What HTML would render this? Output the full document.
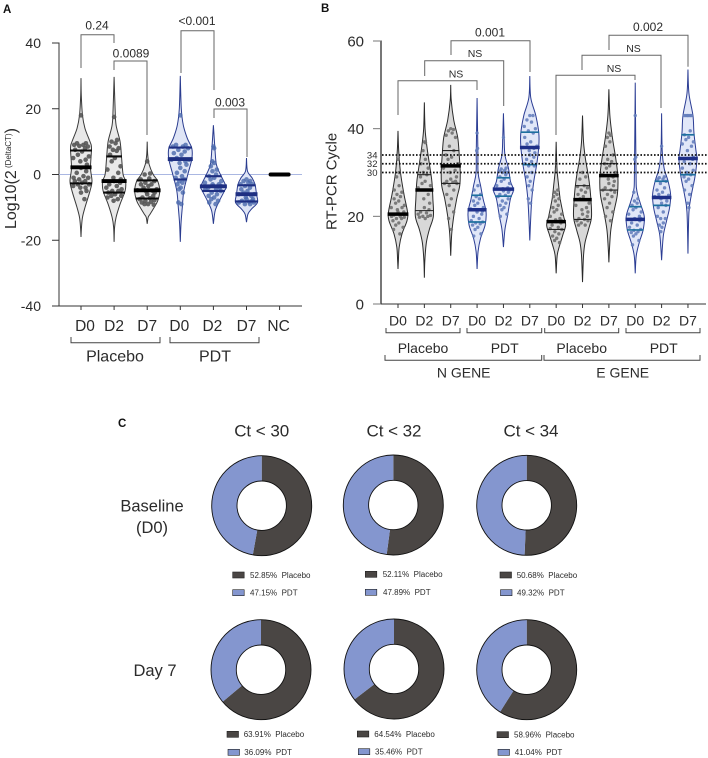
<!DOCTYPE html>
<html lang="en">
<head>
<meta charset="utf-8">
<title>Violin and donut charts</title>
<style>
html,body{margin:0;padding:0;background:#fff;width:708px;height:758px;overflow:hidden}
svg{display:block}
text{font-family:"Liberation Sans",Arial,sans-serif;fill:#2b2b2b}
</style>
</head>
<body>
<svg id="figure" xmlns="http://www.w3.org/2000/svg" width="708" height="758" viewBox="0 0 708 758">
  <rect width="708" height="758" fill="#fff"/>
  <text x="3" y="13" font-size="11.5" font-weight="bold" style="fill:#111">A</text>
  <text x="321" y="12" font-size="11.5" font-weight="bold" style="fill:#111">B</text>
  <text x="118" y="427" font-size="11.5" font-weight="bold" style="fill:#111">C</text>

  <g id="panelA"></g>
  <g id="panelB"></g>
  <g id="panelC"></g>

  <text transform="translate(16,229) rotate(-90)" font-size="16">Log10(2<tspan font-size="8" dy="-5"> (DeltaCT)</tspan><tspan dy="5">)</tspan></text>
  <text transform="translate(336.5,230) rotate(-90)" font-size="15">RT-PCR Cycle</text>

  <g fill="none" stroke="#666" stroke-width="1">
    <path d="M81 68V34.7H114V43"/>
    <path d="M114 70V61H147V135"/>
    <path d="M181 73V30.7H214V90"/>
    <path d="M214 118V109H247V157"/>
  </g>
  <g font-size="12" text-anchor="middle">
    <text x="97" y="29.5">0.24</text>
    <text x="131" y="57.5">0.0089</text>
    <text x="197" y="25">&lt;0.001</text>
    <text x="230" y="106.5">0.003</text>
  </g>

  <g fill="none" stroke="#666" stroke-width="1">
    <path d="M398 115V80.7H477V90"/>
    <path d="M424.7 76V60.7H503.7V106"/>
    <path d="M451 55V40.7H530V72"/>
    <path d="M556 135V75.3H635V80"/>
    <path d="M582 70V55.3H661V108"/>
    <path d="M609 50V35.3H688V66.7"/>
  </g>
  <g font-size="10.5" text-anchor="middle">
    <text x="456" y="77.5">NS</text>
    <text x="475" y="57">NS</text>
    <text x="614" y="72">NS</text>
    <text x="633.5" y="52">NS</text>
  </g>
  <g font-size="12" text-anchor="middle">
    <text x="490" y="36.5">0.001</text>
    <text x="648" y="31">0.002</text>
  </g>

  <g fill="none" stroke="#444" stroke-width="1">
    <path d="M71 337V342.7H160V337"/>
    <path d="M170 337V342.7H259V337"/>
  </g>
  <g font-size="16" text-anchor="middle">
    <text x="115" y="361.5">Placebo</text>
    <text x="215" y="361.5">PDT</text>
  </g>

  <g fill="none" stroke="#444" stroke-width="1">
    <path d="M386 328V332.7H460V328"/>
    <path d="M467 328V332.7H541.7V328"/>
    <path d="M544.7 328V332.7H618.7V328"/>
    <path d="M626 328V332.7H700V328"/>
    <path d="M385 355V360.3H541.7V355"/>
    <path d="M544 355V360.3H700V355"/>
  </g>
  <g font-size="14" text-anchor="middle">
    <text x="423" y="353">Placebo</text>
    <text x="504.7" y="353">PDT</text>
    <text x="581.7" y="353">Placebo</text>
    <text x="663.7" y="353">PDT</text>
    <text x="463.7" y="377.5">N GENE</text>
    <text x="622.7" y="377.5">E GENE</text>
  </g>

  <g font-size="17" text-anchor="middle">
    <text x="261.7" y="436.5" textLength="55">Ct &lt; 30</text>
    <text x="394" y="436.5" textLength="55">Ct &lt; 32</text>
    <text x="531" y="436.5" textLength="55">Ct &lt; 34</text>
    <text x="152" y="511.5" font-size="16.5">Baseline</text>
    <text x="152" y="533" font-size="16.5">(D0)</text>
    <text x="155" y="676" font-size="16.5">Day 7</text>
  </g>
</svg>

<script>
// ---------- Panel A data ----------
const aCategories = ['D0','D2','D7','D0','D2','D7','NC'];
const aTicks = [40,20,0,-20,-40];
const aTickLabels = ['40','20','0','-20','-40'];
const aNames = ['placebo-d0','placebo-d2','placebo-d7','pdt-d0','pdt-d2','pdt-d7'];
const aQ3 = [7.3,5.5,-1.8,8.2,-0.5,-3.3];
const aMedian = [2.2,-2,-4.8,4.7,-3.6,-6];
const aQ1 = [-2.7,-5.5,-7.3,-1.5,-5,-8.2];
const aNegativeControl = [0];
const aDensityLevels = [
  [29.3,24,18,14,10,8,2,-2,-5,-10,-13,-16,-19],
  [29.7,20,15,10,5,0,-2,-5,-9,-13,-16,-20.5],
  [10,6,3,0,-2,-5,-8,-10,-12,-13,-15],
  [30,20,15,11,8,4.7,0,-5,-10,-15,-20.5],
  [15,8,3,0,-3.6,-5,-8,-11,-15],
  [5,1,-1,-3,-6,-8.5,-10.5,-12,-14.5]
];
const aDensities = [
  [0,.3,1.5,4,9,10.5,9.5,11,9,4,1.5,.5,0],
  [0,1,2,6,7.5,9,11.5,11,6,2,.5,0],
  [0,.5,2,6,10.5,12.5,10.5,7,3,1,0],
  [0,1,3,7,11.5,11.5,7.5,3.5,2,.7,0],
  [0,1.5,3,7,12.5,11,6,1.8,0],
  [0,1,5.5,8.5,10,11,5,1.5,0]
];
const aPoints = [
  [18,9.5,9.5,9,9,8.5,8.7,8,7.5,7,6,5.5,5,4.5,4,3,2,1,0.5,-0.5,-1,-1,-1.5,-2,-2,-2.5,-3,-3,-3.5,-4,-4,-5,-5.5,-7.5],
  [17.5,10.5,10,9.5,8.5,8,7.5,7.2,6,5,4,2.5,1.5,0.5,-1,-1.5,-2,-2.5,-3,-3.5,-4,-4.5,-5,-5,-5.5,-6,-6.5,-6.5,-7,-7.5,-8],
  [4,0.3,0,-1.2,-1.5,-2,-2.5,-3,-3,-3.5,-4,-4.5,-4.8,-5,-5.2,-5.5,-6,-6.5,-7,-7.2,-7.5,-7.8,-8,-8.3,-8.5,-9,-9,-9.2],
  [18,9,9,8.5,8.5,8,7.5,7,6.5,6,5,4.5,4.5,4,3.5,3,2,1,0.5,-0.5,-1,-1.5,-2,-2.5,-3,-4,-4.5,-5.5,-8.5,-9],
  [8.5,8,4,3.5,2.5,1.5,1,0,-0.5,-1,-1.5,-2,-2.5,-3,-3,-3.5,-3.5,-4,-4,-4.5,-4.5,-5,-5.5,-6,-6.5,-7,-7.5,-8,-8.5,-9],
  [-1.5,-2,-2,-2.5,-3,-3,-3.5,-4,-4.5,-5,-5.5,-6,-6,-6.5,-7,-7.5,-7.5,-8,-8,-8.3,-8.5,-8.5,-9,-9]
];

// ---------- Panel B data ----------
const bCategories = ['D0','D2','D7','D0','D2','D7','D0','D2','D7','D0','D2','D7'];
const bTicks = [60,40,20,0];
const bTickLabels = ['60','40','20','0'];
const bThresholds = [34,32,30];
const bThresholdLabels = ['34','32','30'];
const bNames = ['n-placebo-d0','n-placebo-d2','n-placebo-d7','n-pdt-d0','n-pdt-d2','n-pdt-d7','e-placebo-d0','e-placebo-d2','e-placebo-d7','e-pdt-d0','e-pdt-d2','e-pdt-d7'];
const bQ3 = [null,29.5,35,24.8,28.8,39.2,null,27,32,22.2,28,38.6];
const bMedian = [20.5,26,31.5,21.5,26.2,35.7,18.8,23.8,29.3,19.3,24.3,33.2];
const bQ1 = [null,21.3,27.5,18.7,24.6,31.8,17,19.3,26,16.9,22.5,29.5];
const bDensityLevels = [
  [39.5,35,30,25,21,19,16,13,10,8],
  [46,40,36,32,28,24,20,17,14,10,6],
  [50,46.5,42,38,34,30,27,24,20,16,11],
  [47,35,30,27,24,21,18,15,12,8],
  [43.5,38,34,31,28,26,24,20,17,13],
  [52,47,43,39,36,32,28,24,19,14.5],
  [37,31,27,24,20,18,16,13,11,7],
  [43,37,33,29,25,20,17,14,11,5],
  [49,43,38,33,29,25,21,17,13,9.5],
  [50.5,30,26,23,20,17,14,11,7],
  [43.5,35,31,28,25,22,19,16,13,10],
  [53.5,48,43,39,35,33,29,25,21,11.5]
];
const bDensities = [
  [0,.7,2.5,6,9.5,9,4,1.2,.4,0],
  [0,.7,2.5,5,7.5,8.5,9,5,2,.5,0],
  [0,.5,3,7,8.5,9.5,9,6,3,1,0],
  [0,.8,1,3.5,6,9,8,3.5,1,0],
  [0,.7,1.5,5,7,10,7,4,1.5,0],
  [0,1,6,9,9,7,4,2,.8,0],
  [0,.8,2.5,4,7.5,9.5,7,3,1,0],
  [0,1,3,6,8,9,6,2.5,1,0],
  [0,1,3.5,7,9,8.5,5,2,.7,0],
  [0,.8,1.5,5,9,8,4,1,0],
  [0,.6,2.5,6.5,9,8,5,2,.8,0],
  [0,1,5,6,8,9,7,3.5,1,0]
];
const bPoints = [
  [33,30,29,27,26,25.5,25,24.5,24,23.5,23,22.5,22,22,21.5,21,21,20.5,20.3,20,20,19.8,19.5,19.5,19,18.5,18,17.5,17,16],
  [37,36.8,35,33,32,31,30,29.5,29,28,27.5,27,26.5,25,24,23,22,21.5,21,20.8,20.5,20.2,20,20,19.8,19.5],
  [40,39.8,39.5,39,38.5,38,36,35,34,33.5,33,32,31,30.5,30,29,28.5,28,28,27.8,27.5,27.5,27,26,25,24,22.5,21,19.5,17],
  [39,35.5,35,27,26,25,24.5,24,23.5,23,22.5,22,21.7,21.5,21.5,21.2,21,20.5,20,19.5,19,18.7,18.5,18.3,18,17.5,17,16,15.5],
  [38,31,30.8,30.5,30.3,30,30,29.5,29,28.5,28,27.5,27,26.5,26.3,26,25.8,25.5,25,24.8,24.5,24,23.5,23,22.5,22,21.5,20.5,20],
  [43,43,42,41.5,40.5,40,39.5,39,38,37,36.5,36,35.7,35.5,35,34.5,34,33.5,33,32.5,32,31.5,31.5,30,29,28,27,26,24,23],
  [32,26,25.5,25,24.5,24,23.5,22.5,22,21.5,21,20.5,20,19.5,19.2,19,18.8,18.5,18,17.5,17.2,17,16.5,16,15.5,15,14.5,14],
  [30,29,28.5,27,26.8,26.5,26,25.5,25,24.5,24,23,22.5,22,21.5,21,20.5,20,19.5,19.3,19,19,18.5,18,18],
  [39,38.5,38,37,36,34,33,32.5,32,31.5,31,30,29.5,29,28.5,28,27.5,27,26.5,26,26,25.5,25,24.5,24,23,22,21,20,19],
  [43,33.5,33,30,25.5,24,23.5,23,22.5,22,21.5,21,20.5,20,19.5,19.5,19.3,19,18.5,18,17.5,17,16.8,16.5,16.3,16,15.5,14.5,13.5],
  [36,29,28.8,28.5,28.5,28,27.5,26.5,26,25.5,25,24.8,24.5,24.3,24,23.5,23,22.5,22,21,20,19.5,19.5,18.5,18,17.5,16.5],
  [43,43,43,43,43,43,43,39.5,38.6,38,37.5,37,36.5,36,35,33.5,33.2,33,32.5,32,31,30.5,30,29.5,29,28.5,28,27,26,25,23,22]
];

// ---------- Panel C data ----------
const cPanelNames = ['baseline-ct-30','baseline-ct-32','baseline-ct-34','day7-ct-30','day7-ct-32','day7-ct-34'];
const cPlaceboShare = [52.85,52.11,50.68,63.91,64.54,58.96];
const cPdtShare = [47.15,47.89,49.32,36.09,35.46,41.04];

// ---------- Axis functions ----------
const NS = 'http://www.w3.org/2000/svg';
const xA = i => 81 + i * 33.1;
const yA = v => 174.5 - v * 131.5 / 40;
const xB = i => 398 + i * 26.36;
const yB = v => 304 - v * 263 / 60;
const jitter = [0,.62,-.5,.28,-.82,.8,-.2,.45,-.66,.12,-.36,.92,-.92,.55,-.08,.72];

function make(tag, parent) {
  const el = document.createElementNS(NS, tag);
  parent.appendChild(el);
  return el;
}
function densityAt(levels, dens, v) {
  for (let i = 0; i < levels.length - 1; i++) {
    if (v <= levels[i] && v >= levels[i + 1]) {
      const t = (levels[i] - v) / (levels[i] - levels[i + 1]);
      return dens[i] + (dens[i + 1] - dens[i]) * t;
    }
  }
  return 0;
}
function smoothSegments(p) {
  let d = '';
  for (let i = 0; i < p.length - 1; i++) {
    const p0 = p[Math.max(i - 1, 0)], p1 = p[i], p2 = p[i + 1], p3 = p[Math.min(i + 2, p.length - 1)];
    const c1x = p1[0] + (p2[0] - p0[0]) / 6, c1y = p1[1] + (p2[1] - p0[1]) / 6;
    const c2x = p2[0] - (p3[0] - p1[0]) / 6, c2y = p2[1] - (p3[1] - p1[1]) / 6;
    d += 'C' + c1x.toFixed(2) + ' ' + c1y.toFixed(2) + ' ' + c2x.toFixed(2) + ' ' + c2y.toFixed(2) + ' ' + p2[0].toFixed(2) + ' ' + p2[1].toFixed(2);
  }
  return d;
}
function violinPath(cx, levels, dens, y) {
  const right = levels.map((v, i) => [cx + dens[i], y(v)]);
  const left = levels.map((v, i) => [cx - dens[i], y(v)]).reverse();
  return 'M' + right[0][0] + ' ' + right[0][1] + smoothSegments(right) + smoothSegments(left) + 'Z';
}

function drawViolin(parent, opt) {
  const g = make('g', parent);
  
  

  const body = make('path', g);
  
  
  body.setAttribute('d', violinPath(opt.cx, opt.levels, opt.dens, opt.y));
  body.setAttribute('fill', opt.fill);
  body.setAttribute('stroke', opt.stroke);
  body.setAttribute('stroke-width', '1');

  opt.points.forEach((v, k) => {
    const hw = densityAt(opt.levels, opt.dens, v);
    const c = make('circle', g);
    
    
    c.setAttribute('cx', (opt.cx + Math.max(hw, 1) * 0.85 * jitter[k % jitter.length]).toFixed(2));
    c.setAttribute('cy', opt.y(v).toFixed(2));
    c.setAttribute('r', opt.r);
    c.setAttribute('fill', opt.dot);
    c.setAttribute('fill-opacity', opt.dotOpacity);
  });

  [[opt.q3, 'quartile-line', opt.qColor, opt.qWidth, 0.5],
   [opt.q1, 'quartile-line', opt.qColor, opt.qWidth, 0.5],
   [opt.med, 'median-line', opt.medColor, opt.medWidth, 1]].forEach(spec => {
    if (spec[0] === null) return;
    const hw = densityAt(opt.levels, opt.dens, spec[0]) + spec[4];
    const l = make('line', g);
    
    
    l.setAttribute('x1', opt.cx - hw);
    l.setAttribute('x2', opt.cx + hw);
    l.setAttribute('y1', opt.y(spec[0]));
    l.setAttribute('y2', opt.y(spec[0]));
    l.setAttribute('stroke', spec[2]);
    l.setAttribute('stroke-width', spec[3]);
  });
}

function drawAxes(parent, opt) {
  const yLine = make('line', parent);
  
  
  yLine.setAttribute('x1', opt.x0);
  yLine.setAttribute('x2', opt.x0);
  yLine.setAttribute('y1', opt.y(opt.ticks[0]) - 0.5);
  yLine.setAttribute('y2', opt.y(opt.ticks[opt.ticks.length - 1]) + 0.5);
  yLine.setAttribute('stroke', opt.yColor);
  yLine.setAttribute('stroke-width', opt.yWidth);

  const xLine = make('line', parent);
  
  
  xLine.setAttribute('x1', opt.x0 - opt.yWidth / 2);
  xLine.setAttribute('x2', opt.x1);
  xLine.setAttribute('y1', opt.y(opt.ticks[opt.ticks.length - 1]));
  xLine.setAttribute('y2', opt.y(opt.ticks[opt.ticks.length - 1]));
  xLine.setAttribute('stroke', '#333');
  xLine.setAttribute('stroke-width', '1');

  opt.ticks.forEach((v, i) => {
    const t = make('line', parent);
    
    
    t.setAttribute('x1', opt.x0 - opt.tickLen);
    t.setAttribute('x2', opt.x0);
    t.setAttribute('y1', opt.y(v));
    t.setAttribute('y2', opt.y(v));
    t.setAttribute('stroke', opt.yColor);
    t.setAttribute('stroke-width', '1');

    const lab = make('text', parent);
    
    
    lab.setAttribute('x', opt.labelX);
    lab.setAttribute('y', opt.y(v) + opt.labelDy);
    lab.setAttribute('font-size', opt.labelSize);
    lab.setAttribute('text-anchor', 'end');
    lab.textContent = opt.tickLabels[i];
  });

  opt.categories.forEach((c, i) => {
    const cx = opt.x(i);
    const t = make('line', parent);
    
    
    t.setAttribute('x1', cx);
    t.setAttribute('x2', cx);
    t.setAttribute('y1', opt.y(opt.ticks[opt.ticks.length - 1]));
    t.setAttribute('y2', opt.y(opt.ticks[opt.ticks.length - 1]) + 4);
    t.setAttribute('stroke', '#333');
    t.setAttribute('stroke-width', '1');

    const lab = make('text', parent);
    
    
    lab.setAttribute('x', cx + (opt.catOffset ? opt.catOffset[i] : 0));
    lab.setAttribute('y', opt.catY);
    lab.setAttribute('font-size', opt.catSize);
    lab.setAttribute('text-anchor', 'middle');
    lab.textContent = c;
  });
}

// ---------- Panel A ----------
const panelA = document.getElementById('panelA');
drawAxes(panelA, {
  x0: 59, x1: 302, y: yA, x: xA, ticks: aTicks, tickLabels: aTickLabels, categories: aCategories,
  yColor: '#333', yWidth: 1, tickLen: 7, labelX: 41, labelDy: 5, labelSize: 14,
  catY: 331, catSize: 15.5, catOffset: [4,0,0,-1,-1,0,-1]
});
const zeroLine = make('line', panelA);


zeroLine.setAttribute('x1', 59);
zeroLine.setAttribute('x2', 302);
zeroLine.setAttribute('y1', yA(0));
zeroLine.setAttribute('y2', yA(0));
zeroLine.setAttribute('stroke', '#aab7e2');
zeroLine.setAttribute('stroke-width', '1');

aNames.forEach((name, i) => {
  const pdt = i >= 3;
  drawViolin(panelA, {
    name: name, cx: xA(i), y: yA, levels: aDensityLevels[i], dens: aDensities[i], points: aPoints[i],
    q3: aQ3[i], q1: aQ1[i], med: aMedian[i],
    fill: pdt ? '#dfe5f6' : '#e8e8e8', stroke: pdt ? '#2a3c8f' : '#3a3a3a',
    dot: pdt ? '#4a69ad' : '#555555', dotOpacity: pdt ? 0.8 : 0.9, r: 2.3,
    qColor: pdt ? '#1e2f82' : '#0a0a0a', qWidth: 2.1,
    medColor: pdt ? '#1e2f82' : '#000', medWidth: 3.9
  });
});
const ncLine = make('line', panelA);


ncLine.setAttribute('x1', xA(6) - 9);
ncLine.setAttribute('x2', xA(6) + 9);
ncLine.setAttribute('y1', yA(aNegativeControl[0]));
ncLine.setAttribute('y2', yA(aNegativeControl[0]));
ncLine.setAttribute('stroke', '#000');
ncLine.setAttribute('stroke-width', '4');
ncLine.setAttribute('stroke-linecap', 'round');

// ---------- Panel B ----------
const panelB = document.getElementById('panelB');
drawAxes(panelB, {
  x0: 381, x1: 706, y: yB, x: xB, ticks: bTicks, tickLabels: bTickLabels, categories: bCategories,
  yColor: '#777', yWidth: 2, tickLen: 8, labelX: 364, labelDy: 5.5, labelSize: 15,
  catY: 325.5, catSize: 14
});
bNames.forEach((name, i) => {
  const pdt = (i % 6) >= 3;
  drawViolin(panelB, {
    name: name, cx: xB(i), y: yB, levels: bDensityLevels[i], dens: bDensities[i], points: bPoints[i],
    q3: bQ3[i], q1: bQ1[i], med: bMedian[i],
    fill: pdt ? '#e1e7f8' : '#d8d8d8', stroke: pdt ? '#2b3d94' : '#2a2a2a',
    dot: pdt ? '#6680bd' : '#707070', dotOpacity: 0.9, r: 1.7,
    qColor: pdt ? '#1d6f9e' : '#222', qWidth: pdt ? 1.7 : 1.1,
    medColor: pdt ? '#1e2f88' : '#000', medWidth: 3.5
  });
});
bThresholds.forEach((v, i) => {
  const l = make('line', panelB);
  
  
  l.setAttribute('x1', 382);
  l.setAttribute('x2', 708);
  l.setAttribute('y1', yB(v));
  l.setAttribute('y2', yB(v));
  l.setAttribute('stroke', '#111');
  l.setAttribute('stroke-width', '1.8');
  l.setAttribute('stroke-dasharray', '1.6 1.8');

  const t = make('text', panelB);
  
  
  t.setAttribute('x', 377.5);
  t.setAttribute('y', yB(v) + 3.5);
  t.setAttribute('font-size', '9.5');
  t.setAttribute('text-anchor', 'end');
  t.textContent = bThresholdLabels[i];
});

// ---------- Panel C (layout table is geometry; shares above are the data) ----------
const panelC = document.getElementById('panelC');
const donutLayout = [
  {cx:261.7, cy:505.7, sw1:232.7, sw2:232.7, tx1:250,   tx2:250,   ry1:575,   ry2:592.7},
  {cx:393.3, cy:505,   sw1:365.3, sw2:365.3, tx1:382.7, tx2:383,   ry1:574.3, ry2:592.3},
  {cx:526.7, cy:505.3, sw1:500,   sw2:500.5, tx1:516.7, tx2:517,   ry1:575,   ry2:592.7},
  {cx:261,   cy:669.7, sw1:227,   sw2:228,   tx1:243.7, tx2:244.3, ry1:734.3, ry2:752.3},
  {cx:394,   cy:669,   sw1:357.3, sw2:358.3, tx1:374.3, tx2:375,   ry1:734,   ry2:751.7},
  {cx:526.7, cy:669.7, sw1:497,   sw2:498,   tx1:514,   tx2:514.7, ry1:734.7, ry2:752.3}
];
const OUTER = 50, INNER = 24.7;
function sector(cx, cy, from, to) {
  const a0 = (from / 100) * 2 * Math.PI - Math.PI / 2;
  const a1 = (to / 100) * 2 * Math.PI - Math.PI / 2;
  const large = (to - from) > 50 ? 1 : 0;
  const p = (r, a) => (cx + r * Math.cos(a)).toFixed(2) + ' ' + (cy + r * Math.sin(a)).toFixed(2);
  return 'M' + p(OUTER, a0) + 'A' + OUTER + ' ' + OUTER + ' 0 ' + large + ' 1 ' + p(OUTER, a1) +
         'L' + p(INNER, a1) + 'A' + INNER + ' ' + INNER + ' 0 ' + large + ' 0 ' + p(INNER, a0) + 'Z';
}
cPanelNames.forEach((name, i) => {
  const L = donutLayout[i];
  const g = make('g', panelC);
  
  

  const total = cPlaceboShare[i] + cPdtShare[i];
  const split = cPlaceboShare[i] / total * 100;

  const s1 = make('path', g);
  
  
  s1.setAttribute('d', sector(L.cx, L.cy, 0, split));
  s1.setAttribute('fill', '#4a4644');

  const s2 = make('path', g);
  
  
  s2.setAttribute('d', sector(L.cx, L.cy, split, 100));
  s2.setAttribute('fill', '#8496cf');

  const outer = make('circle', g);
  
  
  outer.setAttribute('cx', L.cx);
  outer.setAttribute('cy', L.cy);
  outer.setAttribute('r', OUTER);
  outer.setAttribute('fill', 'none');
  outer.setAttribute('stroke', '#111');
  outer.setAttribute('stroke-width', '0.9');

  const inner = make('circle', g);
  
  
  inner.setAttribute('cx', L.cx);
  inner.setAttribute('cy', L.cy);
  inner.setAttribute('r', INNER);
  inner.setAttribute('fill', '#fff');
  inner.setAttribute('stroke', '#111');
  inner.setAttribute('stroke-width', '0.9');

  const sw1 = make('rect', g);
  
  
  sw1.setAttribute('x', L.sw1);
  sw1.setAttribute('y', L.ry1 - 3);
  sw1.setAttribute('width', 11.5);
  sw1.setAttribute('height', 6);
  sw1.setAttribute('fill', '#4a4644');
  sw1.setAttribute('stroke', '#222');
  sw1.setAttribute('stroke-width', '0.6');

  const t1 = make('text', g);
  
  
  t1.setAttribute('x', L.tx1);
  t1.setAttribute('y', L.ry1 + 2.8);
  t1.setAttribute('font-size', '8');
  t1.style.whiteSpace = 'pre';
  t1.textContent = cPlaceboShare[i].toFixed(2) + '%  Placebo';

  const sw2 = make('rect', g);
  
  
  sw2.setAttribute('x', L.sw2);
  sw2.setAttribute('y', L.ry2 - 3);
  sw2.setAttribute('width', 11.5);
  sw2.setAttribute('height', 6);
  sw2.setAttribute('fill', '#8496cf');
  sw2.setAttribute('stroke', '#222');
  sw2.setAttribute('stroke-width', '0.6');

  const t2 = make('text', g);
  
  
  t2.setAttribute('x', L.tx2);
  t2.setAttribute('y', L.ry2 + 2.8);
  t2.setAttribute('font-size', '8');
  t2.style.whiteSpace = 'pre';
  t2.textContent = cPdtShare[i].toFixed(2) + '%  PDT';
});
</script>
</body>
</html>
